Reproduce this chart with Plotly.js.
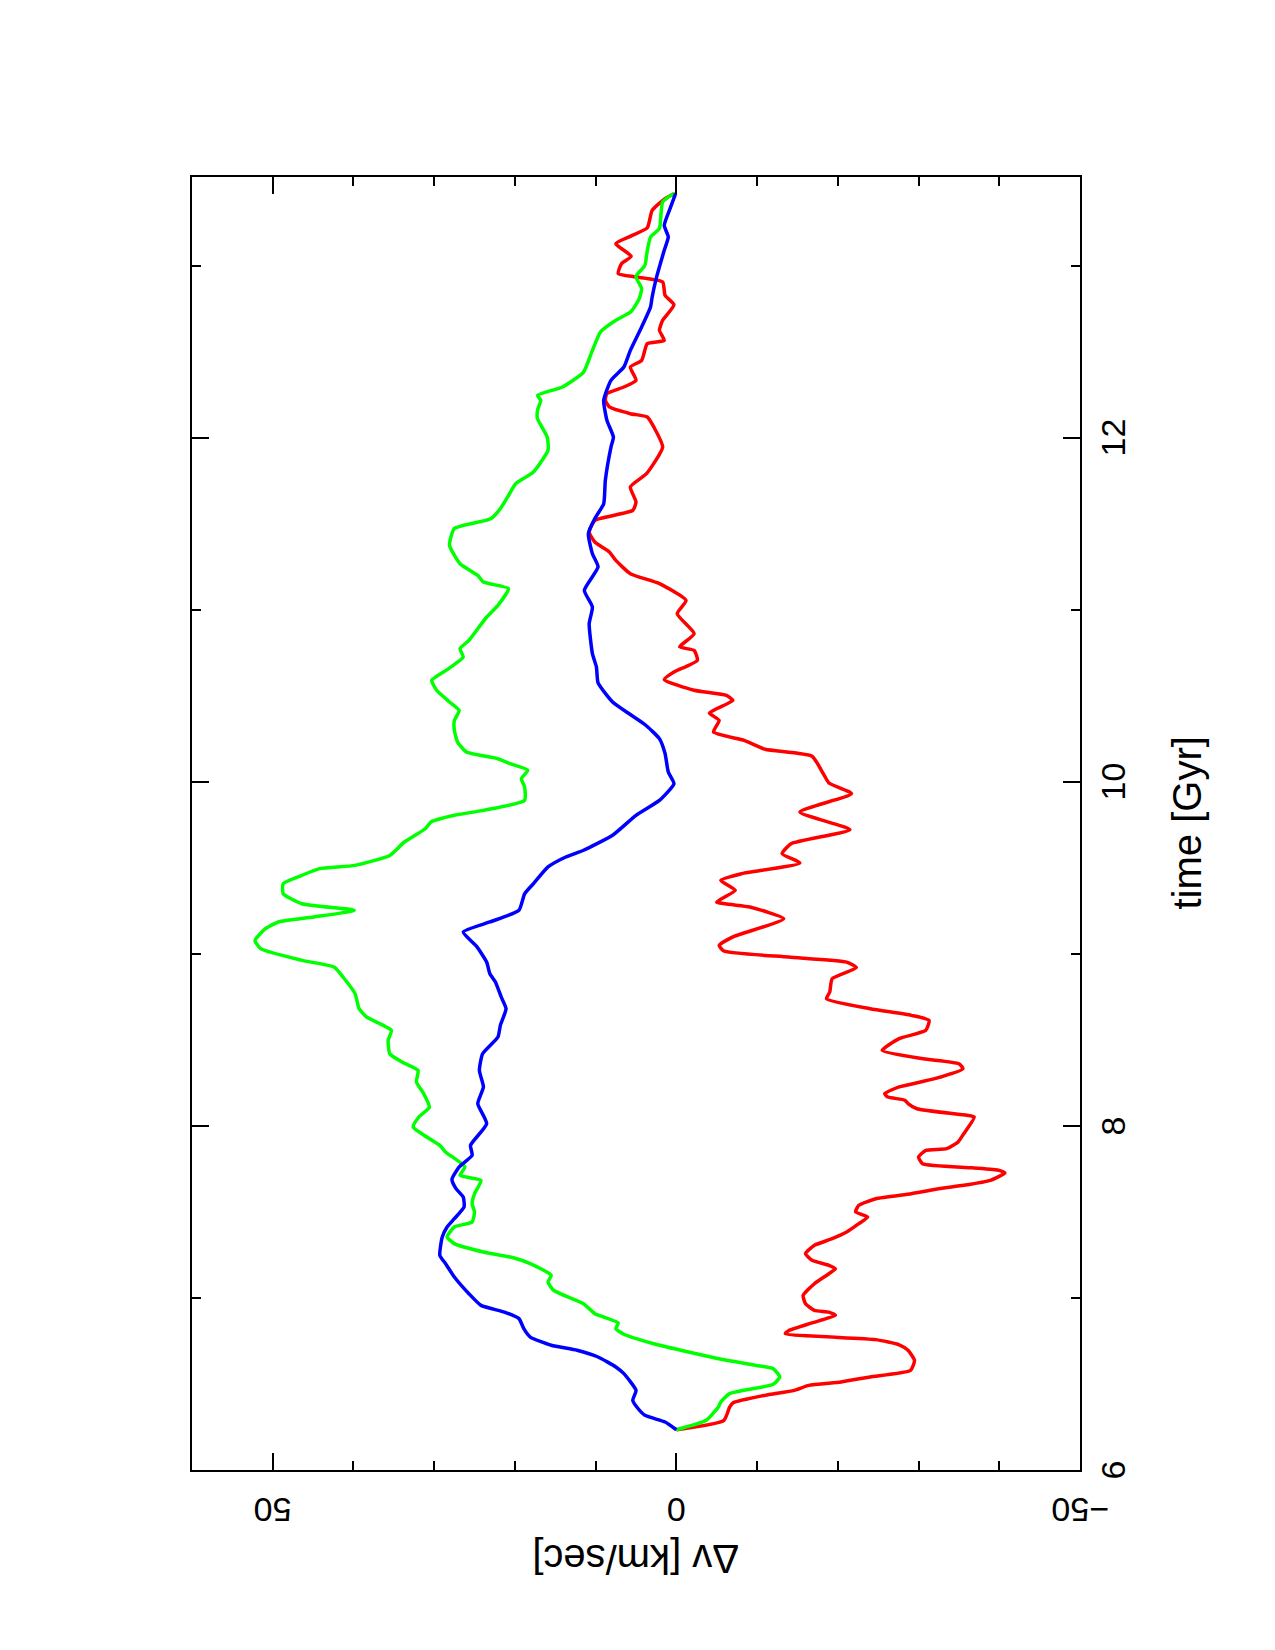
<!DOCTYPE html>
<html>
<head>
<meta charset="utf-8">
<script src="https://cdn.plot.ly/plotly-3.0.1.min.js"></script>
<style>
  html, body { margin: 0; padding: 0; background: #ffffff; }
  #chart { width: 1275px; height: 1650px; }
</style>
</head>
<body>
<div id="chart"></div>
<script>
// time [Gyr] and Δv [km/sec] for each curve
const redTime = [6.234, 6.289, 6.366, 6.39, 6.434, 6.463, 6.492, 6.512, 6.541, 6.579, 6.637, 6.696, 6.728, 6.758, 6.793, 6.81, 6.855, 6.899, 6.918, 6.928, 6.967, 7.015, 7.083, 7.141, 7.170, 7.190, 7.219, 7.258, 7.306, 7.345, 7.384, 7.432, 7.471, 7.500, 7.539, 7.577, 7.606, 7.636, 7.655, 7.684, 7.727, 7.742, 7.757, 7.781, 7.820, 7.858, 7.868, 7.907, 7.955, 8.052, 8.062, 8.100, 8.130, 8.150, 8.168, 8.188, 8.227, 8.275, 8.333, 8.362, 8.391, 8.440, 8.508, 8.556, 8.614, 8.643, 8.682, 8.740, 8.779, 8.856, 8.920, 8.953, 8.982, 9.017, 9.050, 9.099, 9.205, 9.273, 9.302, 9.370, 9.428, 9.467, 9.529, 9.583, 9.641, 9.723, 9.825, 9.932, 9.994, 10.048, 10.150, 10.190, 10.242, 10.290, 10.358, 10.401, 10.474, 10.503, 10.533, 10.595, 10.639, 10.707, 10.765, 10.785, 10.862, 10.978, 11.056, 11.153, 11.211, 11.288, 11.337, 11.395, 11.453, 11.521, 11.579, 11.628, 11.715, 11.792, 11.947, 12.064, 12.122, 12.141, 12.180, 12.219, 12.258, 12.296, 12.335, 12.412, 12.451, 12.548, 12.567, 12.626, 12.684, 12.774, 12.829, 12.907, 12.936, 12.955, 13.013, 13.056, 13.129, 13.172, 13.222, 13.323, 13.391, 13.420];
const redDv = [0, -5.9, -6.6, -7.0, -11.0, -14.6, -16.4, -20.4, -24.0, -29.0, -29.5, -28.7, -27.6, -24.7, -13.5, -13.9, -16.8, -19.7, -18.9, -17.1, -16.0, -15.7, -17.1, -18.9, -19.7, -18.9, -16.8, -16.0, -17.1, -19.3, -21.1, -22.6, -23.7, -22.2, -22.6, -24.7, -29.1, -32.7, -35.6, -38.9, -40.7, -40.0, -36.6, -30.5, -30.0, -30.9, -33.5, -34.9, -35.6, -36.9, -36.0, -29.8, -28.7, -28.3, -26.2, -25.8, -27.6, -32.0, -35.5, -35.0, -30.6, -25.5, -27.6, -30.9, -31.3, -29.1, -24.0, -18.6, -19.0, -19.3, -22.3, -21.1, -13.9, -5.9, -5.3, -7.0, -13.3, -9.1, -5.0, -7.3, -5.5, -8.1, -15.3, -13.1, -14.2, -21.5, -15.3, -21.7, -18.9, -18.2, -16.8, -11.0, -8.4, -4.6, -5.3, -4.1, -7.0, -6.2, -2.2, 1.5, 0.3, -2.6, -2.2, -0.4, -2.2, -0.1, -1.2, 2.1, 5.7, 7.5, 8.3, 10.1, 10.8, 10.1, 5.4, 5.0, 5.7, 3.7, 1.7, 2.8, 3.6, 5.7, 8.3, 8.8, 8.6, 6.5, 5.0, 5.7, 4.3, 3.6, 1.5, 2.1, 1.7, 0.3, 1.4, 1.7, 5.0, 7.2, 6.8, 5.6, 7.5, 5.7, 3.6, 3.0, 1.4, 0.3];

const greenTime = [6.234, 6.289, 6.366, 6.395, 6.444, 6.498, 6.541, 6.589, 6.608, 6.641, 6.686, 6.734, 6.789, 6.822, 6.855, 6.889, 6.909, 6.967, 7.044, 7.093, 7.132, 7.200, 7.234, 7.267, 7.316, 7.355, 7.413, 7.442, 7.500, 7.548, 7.606, 7.684, 7.713, 7.762, 7.849, 7.887, 7.994, 8.052, 8.110, 8.188, 8.255, 8.323, 8.372, 8.420, 8.498, 8.556, 8.634, 8.682, 8.769, 8.866, 8.924, 8.963, 9.031, 9.079, 9.147, 9.186, 9.215, 9.254, 9.292, 9.350, 9.409, 9.457, 9.496, 9.515, 9.573, 9.651, 9.728, 9.767, 9.806, 9.835, 9.893, 9.971, 10.019, 10.068, 10.106, 10.135, 10.174, 10.232, 10.300, 10.358, 10.416, 10.465, 10.533, 10.591, 10.659, 10.726, 10.775, 10.823, 10.959, 11.027, 11.124, 11.162, 11.201, 11.269, 11.376, 11.473, 11.530, 11.589, 11.657, 11.734, 11.802, 11.928, 12.005, 12.112, 12.161, 12.219, 12.248, 12.296, 12.383, 12.509, 12.616, 12.684, 12.735, 12.810, 12.868, 12.939, 13.003, 13.091, 13.168, 13.217, 13.304, 13.372, 13.410, 13.420];
const greenDv = [0, -3.7, -5.2, -5.5, -6.6, -12.0, -12.8, -12.0, -9.9, -5.9, -1.5, 2.8, 6.5, 7.5, 7.2, 9.0, 10.1, 11.5, 15.2, 15.9, 15.5, 18.1, 20.2, 23.9, 27.5, 28.4, 27.5, 25.3, 25.0, 25.3, 25.0, 24.2, 26.8, 26.2, 28.6, 29.3, 32.6, 31.9, 30.6, 31.3, 32.2, 32.0, 34.0, 35.5, 35.7, 35.3, 38.4, 39.3, 39.8, 41.3, 42.4, 46.4, 51.5, 52.2, 50.9, 49.3, 44.9, 39.9, 46.4, 48.7, 48.7, 46.4, 44.2, 39.8, 35.5, 33.7, 31.1, 30.4, 27.5, 23.9, 18.8, 18.8, 19.2, 18.4, 20.6, 22.1, 26.0, 27.1, 27.5, 27.5, 26.9, 28.1, 29.7, 30.3, 28.2, 26.4, 26.8, 25.7, 23.5, 22.1, 20.8, 23.9, 24.6, 26.8, 28.1, 27.5, 23.0, 21.8, 20.9, 19.9, 17.7, 15.9, 16.0, 17.2, 17.2, 16.8, 17.2, 14.1, 11.5, 10.4, 9.4, 7.5, 5.6, 4.6, 4.3, 5.0, 3.9, 3.6, 3.2, 2.1, 1.9, 1.7, 0.7, 0.1];

const blueTime = [6.234, 6.279, 6.318, 6.366, 6.405, 6.463, 6.560, 6.599, 6.657, 6.696, 6.725, 6.773, 6.822, 6.880, 6.918, 6.957, 7.025, 7.122, 7.200, 7.248, 7.355, 7.413, 7.461, 7.529, 7.587, 7.636, 7.690, 7.762, 7.830, 7.888, 8.013, 8.130, 8.227, 8.323, 8.420, 8.517, 8.585, 8.682, 8.750, 8.836, 8.885, 8.953, 9.041, 9.128, 9.186, 9.254, 9.350, 9.409, 9.506, 9.564, 9.603, 9.690, 9.806, 9.893, 9.990, 10.058, 10.165, 10.252, 10.334, 10.392, 10.465, 10.576, 10.668, 10.746, 10.920, 11.017, 11.114, 11.250, 11.327, 11.443, 11.531, 11.618, 11.753, 11.947, 12.005, 12.102, 12.219, 12.335, 12.412, 12.509, 12.645, 12.761, 12.819, 12.926, 13.091, 13.168, 13.236, 13.343, 13.420];
const blueDv = [0, 1.4, 3.9, 4.9, 5.4, 5.0, 6.5, 7.5, 9.7, 12.3, 15.5, 18.1, 18.9, 19.5, 21.3, 24.2, 25.7, 27.5, 28.6, 29.3, 29.0, 28.4, 27.5, 26.3, 26.4, 27.3, 27.8, 26.9, 25.3, 25.5, 23.5, 24.6, 23.9, 24.4, 24.0, 22.1, 21.8, 21.1, 21.7, 22.4, 23.1, 23.5, 24.7, 26.4, 23.1, 19.5, 18.8, 17.7, 15.9, 13.7, 11.5, 7.9, 5.0, 2.1, 0.3, 1.0, 1.4, 2.1, 3.9, 5.7, 7.9, 9.7, 9.9, 10.4, 10.8, 10.4, 11.4, 9.7, 10.4, 10.9, 10.1, 9.0, 8.8, 8.1, 7.8, 8.6, 9.0, 8.1, 6.5, 5.7, 4.3, 3.2, 3.0, 2.5, 1.5, 1.0, 1.5, 0.7, 0.1];

// tick labels
const timeTickVals = [6, 8, 10, 12];
const timeTickText = ['6', '8', '10', '12'];
const dvTickVals = [50, 0, -50];
const dvTickText = ['50', '0', '−50'];

const timeTitle = 'time [Gyr]';
const dvTitle = 'Δv [km/sec]';

const FONT = '"Liberation Sans", Arial, sans-serif';

function curve(t, v, color, name) {
  return {
    x: v, y: t, type: 'scatter', mode: 'lines', name: name,
    line: { color: color, width: 3.5, shape: 'spline', smoothing: 0.5 },
    hoverinfo: 'skip'
  };
}

const data = [
  curve(redTime, redDv, '#ff0000', 'red'),
  curve(greenTime, greenDv, '#00ff00', 'green'),
  curve(blueTime, blueDv, '#0000ff', 'blue')
];

const annotations = [];
timeTickVals.forEach((v, i) => annotations.push({
  text: timeTickText[i], xref: 'paper', yref: 'y', x: 1.0366, y: v,
  xanchor: 'center', yanchor: 'middle', textangle: -90, showarrow: false,
  font: { family: FONT, size: 34, color: '#000000' }
}));
dvTickVals.forEach((v, i) => annotations.push({
  text: dvTickText[i], xref: 'x', yref: 'paper', x: v, y: -0.0305,
  xanchor: 'center', yanchor: 'middle', textangle: 180, showarrow: false,
  font: { family: FONT, size: 34, color: '#000000' }
}));
annotations.push({
  text: dvTitle, xref: 'paper', yref: 'paper', x: 0.5, y: -0.069,
  xanchor: 'center', yanchor: 'middle', textangle: 180, showarrow: false,
  font: { family: FONT, size: 40, color: '#000000' }
});
annotations.push({
  text: timeTitle, xref: 'paper', yref: 'paper', x: 1.1194, y: 0.5,
  xanchor: 'center', yanchor: 'middle', textangle: -90, showarrow: false,
  font: { family: FONT, size: 40, color: '#000000' }
});

const layout = {
  width: 1275, height: 1650,
  margin: { l: 192, r: 195, t: 177, b: 180, pad: 0 },
  paper_bgcolor: '#ffffff', plot_bgcolor: '#ffffff',
  showlegend: false,
  font: { family: FONT, color: '#000000', size: 34 },
  xaxis: {
    range: [60, -50],
    tickmode: 'linear', tick0: 0, dtick: 50,
    ticks: 'inside', ticklen: 17, tickwidth: 2, tickcolor: '#000000',
    minor: { tickmode: 'linear', tick0: 0, dtick: 10, ticks: 'inside', ticklen: 9, tickwidth: 2, tickcolor: '#000000', showgrid: false },
    showline: true, linewidth: 2, linecolor: '#000000', mirror: 'ticks',
    showgrid: false, zeroline: false, showticklabels: false
  },
  yaxis: {
    range: [6, 13.517],
    side: 'right',
    tickmode: 'linear', tick0: 0, dtick: 2,
    ticks: 'inside', ticklen: 17, tickwidth: 2, tickcolor: '#000000',
    minor: { tickmode: 'linear', tick0: 0, dtick: 1, ticks: 'inside', ticklen: 9, tickwidth: 2, tickcolor: '#000000', showgrid: false },
    showline: true, linewidth: 2, linecolor: '#000000', mirror: 'ticks',
    showgrid: false, zeroline: false, showticklabels: false
  },
  annotations: annotations
};

Plotly.newPlot('chart', data, layout, { displayModeBar: false, staticPlot: true });
</script>
</body>
</html>
